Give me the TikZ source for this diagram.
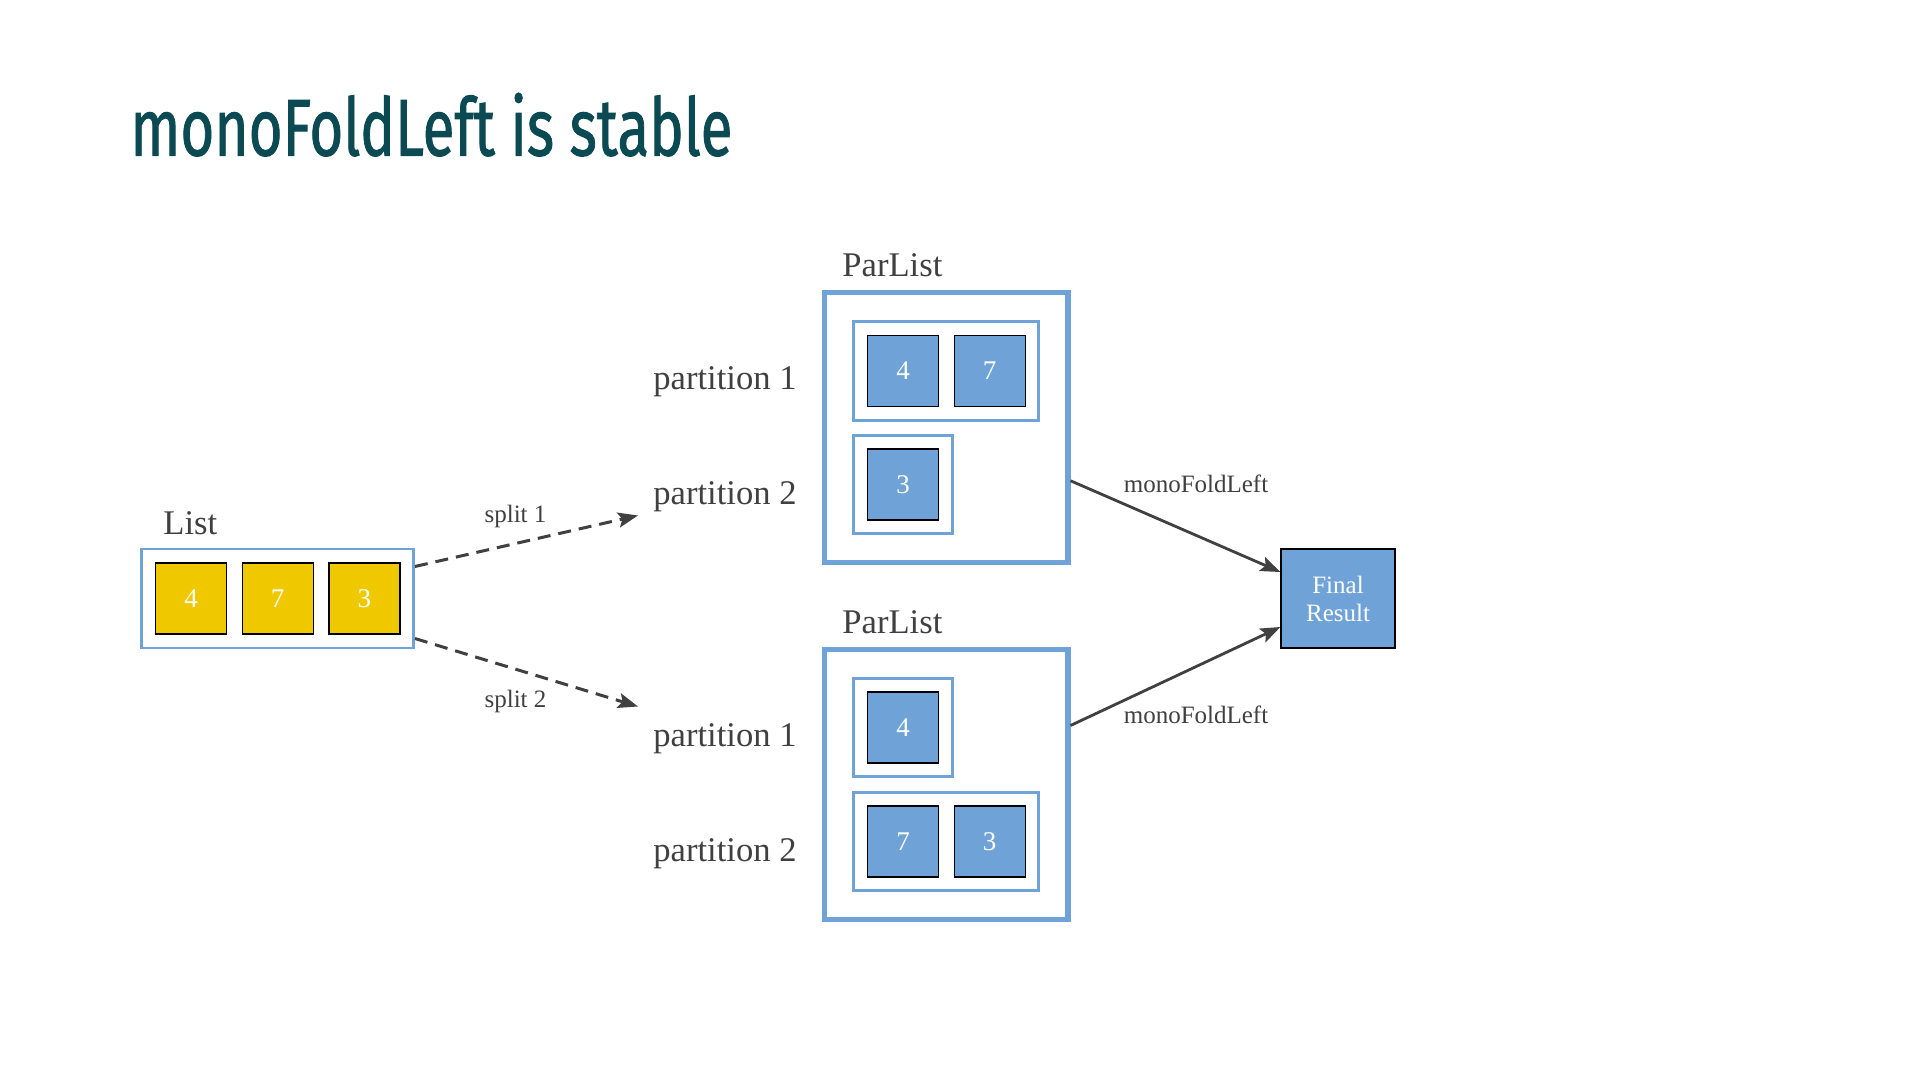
\documentclass[tikz,border=0pt]{standalone}
\usepackage{fontspec}
\usepackage{graphicx}
\usepackage{xcolor}
\setmainfont{Liberation Serif}
\newfontfamily\titlefont[FakeBold=1.3]{Fira Sans}
\usepackage{tikz}
\usetikzlibrary{arrows.meta,positioning,fit}
\definecolor{titleteal}{HTML}{0B4A52}
\definecolor{boxblue}{HTML}{6FA3D8}
\definecolor{itemyellow}{HTML}{F0C800}
\definecolor{darkgrey}{HTML}{404040}
\newcommand{\bigfont}{\fontsize{17.3}{20}\selectfont}
\newcommand{\smallfont}{\fontsize{12.5}{14}\selectfont}

\begin{document}
\begin{tikzpicture}[
    x=0.5pt, y=-0.5pt,
    node distance=7.25pt,
    item/.style={draw=black, line width=0.6pt, minimum size=35.5pt, inner sep=0, text=white, font=\fontsize{13.5}{16}\selectfont},
    yellowitem/.style={item, fill=itemyellow},
    blueitem/.style={item, fill=boxblue},
    listbox/.style={draw=boxblue, line width=1.25pt, inner sep=6.6pt},
    partbox/.style={draw=boxblue, line width=1.5pt, inner sep=6.5pt},
    parbox/.style={draw=boxblue, line width=2.6pt, inner sep=13.8pt},
    biglabel/.style={text=darkgrey, font=\bigfont, inner sep=0},
    smalllabel/.style={text=darkgrey, font=\smallfont, inner sep=0},
    splitarrow/.style={draw=darkgrey, line width=1.5pt, dash pattern=on 6.5pt off 4pt, -{Stealth[length=10pt, width=7.5pt, inset=2pt]}},
    foldarrow/.style={draw=darkgrey, line width=1.4pt, -{Stealth[length=10pt, width=7.5pt, inset=2pt]}}
]
\useasboundingbox[fill=white] (0,0) rectangle (1920,1080);

\node (title) [anchor=base west, inner sep=0, text=titleteal] at (130,155.5)
    {\resizebox{301pt}{31.3pt}{\titlefont monoFoldLeft is stable}};

% the list
\node (l4) [yellowitem] at (191,598.5) {4};
\node (l7) [yellowitem, right=of l4] {7};
\node (l3) [yellowitem, right=of l7] {3};
\node (list) [listbox, fit=(l4) (l3)] {};
\node (listlabel) [biglabel, anchor=base west] at (163,534) {List};

% first parlist
\node (a4) [blueitem] at (903,371) {4};
\node (a7) [blueitem, right=of a4] {7};
\node (a3) [blueitem] at (903,484.5) {3};
\node (apart1) [partbox, fit=(a4) (a7)] {};
\node (apart2) [partbox, fit=(a3)] {};
\node (parA) [parbox, fit=(apart1) (apart2)] {};
\node (parAlabel) [biglabel, anchor=base west] at (842,277) {ParList};
\node (apart1label) [biglabel, anchor=east] at (797,382) {partition 1};
\node (apart2label) [biglabel, anchor=east] at (797,497) {partition 2};

% second parlist
\node (b4) [blueitem] at (903,727.5) {4};
\node (b7) [blueitem] at (903,841.5) {7};
\node (b3) [blueitem, right=of b7] {3};
\node (bpart1) [partbox, fit=(b4)] {};
\node (bpart2) [partbox, fit=(b7) (b3)] {};
\node (parB) [parbox, fit=(bpart1) (bpart2)] {};
\node (parBlabel) [biglabel, anchor=base west] at (842,633) {ParList};
\node (bpart1label) [biglabel, anchor=east] at (797,739) {partition 1};
\node (bpart2label) [biglabel, anchor=east] at (797,854) {partition 2};

\node (final) [draw=black, line width=0.6pt, fill=boxblue, minimum width=57pt, minimum height=49.5pt,
    text=white, font=\smallfont, align=center, inner sep=0] at (1338,598.5) {Final\\Result};

\coordinate (split1end) at (638,515.5);
\coordinate (split2end) at (638,706.5);
\path[splitarrow] ([yshift=16pt]list.east) -- (split1end);
\path[splitarrow] ([yshift=-20pt]list.east) -- (split2end);
\node (split1label) [smalllabel] at (515.5,516) {split 1};
\node (split2label) [smalllabel] at (515.5,701) {split 2};

\path[foldarrow] ([yshift=-26.5pt]parA.east) -- ([yshift=13.25pt]final.west);
\path[foldarrow] ([yshift=29.5pt]parB.east) -- ([yshift=-14.25pt]final.west);
\node (fold1label) [smalllabel] at (1196,484) {monoFoldLeft};
\node (fold2label) [smalllabel] at (1196,715) {monoFoldLeft};

\end{tikzpicture}
\end{document}
